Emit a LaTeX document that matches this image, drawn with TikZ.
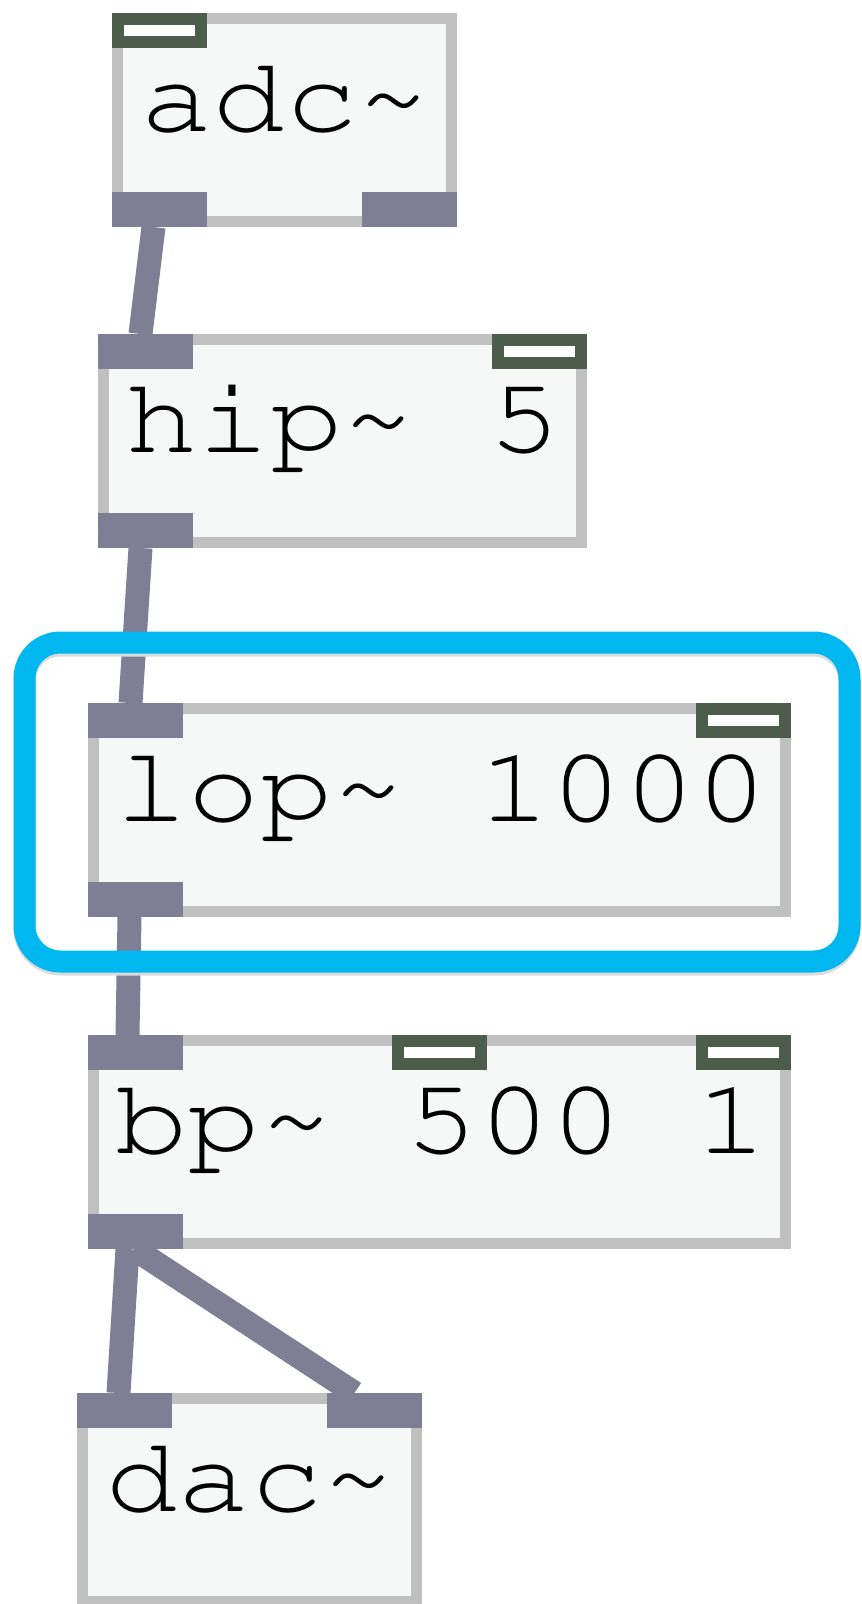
\documentclass[tikz,border=0pt]{standalone}
\usepackage{fontspec}
\definecolor{pdport}{RGB}{126,126,148}
\definecolor{pdctl}{RGB}{77,93,75}
\definecolor{pdedge}{RGB}{192,192,192}
\definecolor{pdbg}{RGB}{246,248,247}
\definecolor{hiblue}{RGB}{0,183,239}
% Courier-like text, stretched a little as in the patch window.
\newcommand{\pdtext}[1]{\scalebox{1.12}[1]{\fontencoding{T1}\fontfamily{pcr}%
  \fontsize{108}{108}\selectfont #1}}

\tikzset{
  objbox/.style={draw=pdedge, fill=pdbg, line width=11pt, inner sep=0pt,
    anchor=north west, minimum height=203pt},
  objlabel/.style={anchor=base west, inner sep=0pt},
  sigport/.style={fill=pdport, inner sep=0pt, outer sep=0pt, anchor=north west,
    minimum width=95pt, minimum height=35pt},
  ctlport/.style={draw=pdctl, fill=white, line width=12pt, inner sep=0pt,
    anchor=north west, minimum width=83pt, minimum height=23pt},
  cord/.style={draw=pdport, line width=24pt},
}

\begin{document}
\begin{tikzpicture}[x=1pt, y=-1pt]
    \useasboundingbox (0,0) rectangle (862,1604);
    % Object boxes.
    \node[objbox, minimum width=334pt] (adc) at (112,13) {};
    \node[objbox, minimum width=478pt] (hip) at (98,334) {};
    \node[objbox, minimum width=692pt] (lop) at (88,703) {};
    \node[objbox, minimum width=692pt] (bp) at (88,1035) {};
    \node[objbox, minimum width=334pt] (dac) at (77,1393) {};
    % Inlets and outlets.
    \node[ctlport] (adc-i0) at (112,13) {};
    \node[sigport] (adc-o0) at (112,192) {};
    \node[sigport] (adc-o1) at (362,192) {};
    \node[sigport] (hip-i0) at (98,334) {};
    \node[ctlport] (hip-i1) at (492,334) {};
    \node[sigport] (hip-o0) at (98,513) {};
    \node[sigport] (lop-i0) at (88,703) {};
    \node[ctlport] (lop-i1) at (696,703) {};
    \node[sigport] (lop-o0) at (88,882) {};
    \node[sigport] (bp-i0) at (88,1035) {};
    \node[ctlport] (bp-i1) at (392,1035) {};
    \node[ctlport] (bp-i2) at (696,1035) {};
    \node[sigport] (bp-o0) at (88,1214) {};
    \node[sigport] (dac-i0) at (77,1393) {};
    \node[sigport] (dac-i1) at (327,1393) {};
    % Object texts.
    \node[objlabel] (adc-txt) at (140,131) {\pdtext{adc\textasciitilde}};
    \node[objlabel] (hip-txt) at (125,452) {\pdtext{hip\textasciitilde{} 5}};
    \node[objlabel] (lop-txt) at (115,821) {\pdtext{lop\textasciitilde{} 1000}};
    \node[objlabel] (bp-txt) at (115,1153) {\pdtext{bp\textasciitilde{} 500 1}};
    \node[objlabel] (dac-txt) at (105,1511) {\pdtext{dac\textasciitilde}};
    % Patch cords.
    \draw[cord] ([xshift=-6pt]adc-o0.south) -- ([xshift=-5pt]hip-i0.north);
    \draw[cord] ([xshift=-5pt]hip-o0.south) -- ([xshift=-5pt]lop-i0.north);
    \draw[cord] ([xshift=-6pt]lop-o0.south) -- ([xshift=-8pt]bp-i0.north);
    \draw[cord] ([xshift=-8pt]bp-o0.south) -- ([xshift=-6pt]dac-i0.north);
    \draw[cord] ([xshift=-1pt]bp-o0.south) -- ([xshift=-20pt]dac-i1.north);
    % Highlight round lop~.
    \draw[black!14, line width=22pt, rounded corners=36pt]
        (24.5,645.5) rectangle (849.5,964.5);
    \draw[hiblue, line width=22pt, rounded corners=36pt]
        (24.5,642.5) rectangle (849.5,961.5);
\end{tikzpicture}
\end{document}
